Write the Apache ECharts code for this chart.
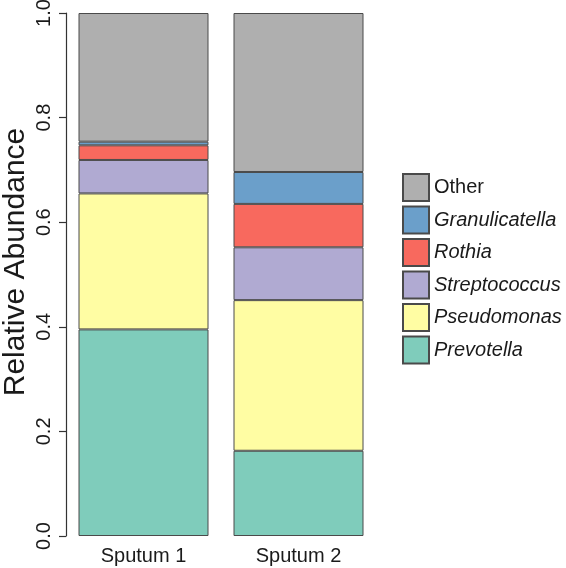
<!DOCTYPE html>
<html>
<head>
<meta charset="utf-8">
<script src="https://cdn.jsdelivr.net/npm/echarts@6/dist/echarts.min.js"></script>
<style>html,body{margin:0;padding:0;background:#fff;}#c{width:566px;height:568px;}</style>
</head>
<body>
<div id="c"></div>
<script>
const categories = ['Sputum 1', 'Sputum 2'];
const prevotella = [0.395, 0.163];
const pseudomonas = [0.260, 0.288];
const streptococcus = [0.064, 0.101];
const rothia = [0.028, 0.083];
const granulicatella = [0.007, 0.061];
const other = [0.246, 0.304];
const yTicks = [0, 0.2, 0.4, 0.6, 0.8, 1.0];
const yTitle = 'Relative Abundance';

const seriesDefs = [
  {name: 'Prevotella', data: prevotella, color: '#7fccbb', italic: true},
  {name: 'Pseudomonas', data: pseudomonas, color: '#fffda3', italic: true},
  {name: 'Streptococcus', data: streptococcus, color: '#b0aad2', italic: true},
  {name: 'Rothia', data: rothia, color: '#f8695e', italic: true},
  {name: 'Granulicatella', data: granulicatella, color: '#6b9fca', italic: true},
  {name: 'Other', data: other, color: '#afafaf', italic: false}
];

const FONT = '"Liberation Sans", Arial, sans-serif';
const chart = echarts.init(document.getElementById('c'), null, {renderer: 'canvas'});
chart.setOption({
  animation: false,
  backgroundColor: '#fff',
  textStyle: {fontFamily: FONT},
  grid: {left: 66, top: 13, width: 310, bottom: 32, containLabel: false, outerBoundsMode: 'none'},
  graphic: [{
    type: 'text',
    x: 16,
    y: 262,
    rotation: Math.PI / 2,
    style: {
      text: yTitle,
      fontSize: 30,
      fontFamily: FONT,
      fill: '#1a1a1a',
      align: 'center',
      verticalAlign: 'middle'
    }
  }],
  legend: {
    orient: 'vertical',
    left: 397,
    top: 168,
    padding: 5,
    itemWidth: 26,
    itemHeight: 27,
    itemGap: 3.5,
    icon: 'rect',
    data: seriesDefs.slice().reverse().map(s => ({
      name: s.name,
      textStyle: {fontStyle: s.italic ? 'italic' : 'normal'}
    })),
    textStyle: {fontSize: 20, color: '#1a1a1a', fontFamily: FONT}
  },
  xAxis: {
    type: 'category',
    data: categories,
    axisLine: {show: false},
    axisTick: {show: false},
    axisLabel: {fontSize: 20, color: '#1a1a1a', margin: 10, fontFamily: FONT}
  },
  yAxis: {
    type: 'value',
    min: yTicks[0],
    max: yTicks[yTicks.length - 1],
    interval: 0.2,
    splitLine: {show: false},
    axisLine: {show: true, lineStyle: {color: '#333', width: 1.2}},
    axisTick: {show: true, length: 7, lineStyle: {color: '#333', width: 1.2}},
    axisLabel: {
      rotate: 90, fontSize: 20, color: '#1a1a1a', margin: 12, fontFamily: FONT,
      formatter: v => v.toFixed(1)
    }
  },
  series: seriesDefs.map(s => ({
    name: s.name,
    type: 'bar',
    stack: 'total',
    data: s.data,
    barWidth: 130,
    itemStyle: {color: s.color, borderColor: '#4a4a4a', borderWidth: 1}
  }))
});
</script>
</body>
</html>
